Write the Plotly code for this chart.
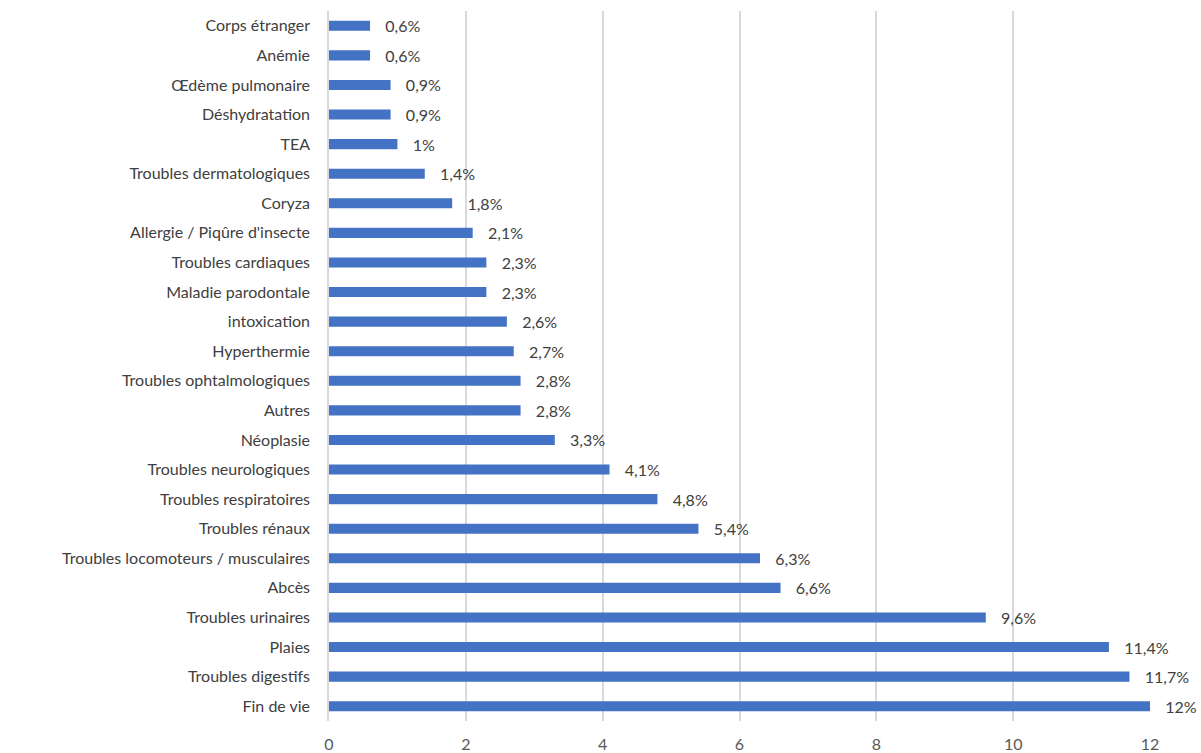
import plotly.graph_objects as go

categories = [
    "Corps étranger", "Anémie", "Œdème pulmonaire", "Déshydratation", "TEA",
    "Troubles dermatologiques", "Coryza", "Allergie / Piqûre d'insecte",
    "Troubles cardiaques", "Maladie parodontale", "intoxication", "Hyperthermie",
    "Troubles ophtalmologiques", "Autres", "Néoplasie", "Troubles neurologiques",
    "Troubles respiratoires", "Troubles rénaux", "Troubles locomoteurs / musculaires",
    "Abcès", "Troubles urinaires", "Plaies", "Troubles digestifs", "Fin de vie",
]
values = [0.6, 0.6, 0.9, 0.9, 1.0, 1.4, 1.8, 2.1, 2.3, 2.3, 2.6, 2.7, 2.8, 2.8,
          3.3, 4.1, 4.8, 5.4, 6.3, 6.6, 9.6, 11.4, 11.7, 12.0]
value_labels = ["0,6%", "0,6%", "0,9%", "0,9%", "1%", "1,4%", "1,8%", "2,1%", "2,3%",
                "2,3%", "2,6%", "2,7%", "2,8%", "2,8%", "3,3%", "4,1%", "4,8%", "5,4%",
                "6,3%", "6,6%", "9,6%", "11,4%", "11,7%", "12%"]
x_ticks = [0, 2, 4, 6, 8, 10, 12]

FONT = "Lato, Carlito, 'Open Sans', sans-serif"

fig = go.Figure(go.Bar(
    x=values,
    y=categories,
    orientation="h",
    marker=dict(color="#4472C4", line=dict(width=0)),
    text=["   " + t for t in value_labels],
    textposition="outside",
    constraintext="none",
    textfont=dict(family=FONT, size=16, color="#404040"),
    cliponaxis=False,
    hoverinfo="x+y",
))

fig.update_layout(
    width=1201, height=753,
    margin=dict(l=329, r=51, t=11, b=32),
    paper_bgcolor="white",
    plot_bgcolor="white",
    bargap=0.66,
    showlegend=False,
    font=dict(family=FONT, size=16, color="#595959"),
)
fig.update_xaxes(
    range=[0, 12],
    tickvals=x_ticks,
    ticktext=[str(t) for t in x_ticks],
    showgrid=True, gridcolor="#D9D9D9", gridwidth=1.5,
    zeroline=False, showline=False,
    ticks="", ticklabelstandoff=12,
    automargin=False,
    tickfont=dict(family=FONT, size=16, color="#595959"),
)
fig.update_yaxes(
    autorange="reversed",
    showline=True, linecolor="#D9D9D9", linewidth=1.5,
    ticks="", ticklabelstandoff=14,
    automargin=False,
    tickfont=dict(family=FONT, size=16, color="#404040"),
    showgrid=False,
)

fig.write_html(
    "out.html",
    config={"displayModeBar": False},
    post_script="document.body.style.margin='0';document.body.style.overflow='hidden';",
)
